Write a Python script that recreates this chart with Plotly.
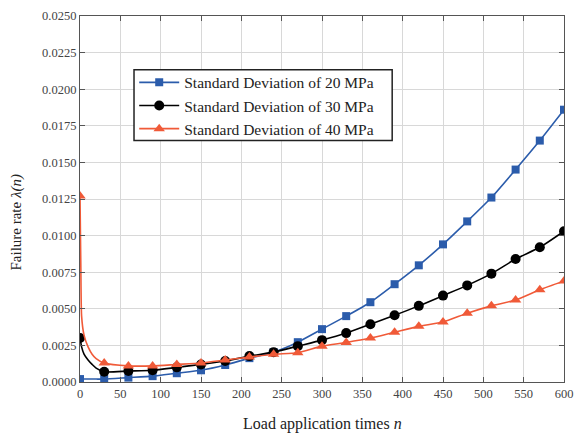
import plotly.graph_objects as go

n_pts = [0, 30, 60, 90, 120, 150, 180, 210, 240, 270, 300, 330, 360, 390, 420, 450, 480, 510, 540, 570, 600]
sd20 = [0.0002, 0.0002, 0.0003, 0.0004, 0.0006, 0.0008, 0.00116, 0.00163, 0.00204, 0.00272, 0.00361,
        0.0045, 0.00545, 0.00668, 0.00797, 0.0094, 0.01097, 0.0126, 0.01451, 0.01649, 0.0186]
sd30 = [0.0030, 0.0007, 0.00075, 0.0008, 0.0010, 0.0012, 0.00143, 0.00177, 0.00204, 0.00245, 0.00286,
        0.00334, 0.00395, 0.00456, 0.0052, 0.0059, 0.0066, 0.0074, 0.0084, 0.0092, 0.0103]
sd40 = [0.0127, 0.0013, 0.0011, 0.0011, 0.0012, 0.0013, 0.0015, 0.0017, 0.0019, 0.0020, 0.00245,
        0.0027, 0.0030, 0.0034, 0.0038, 0.0041, 0.0047, 0.0052, 0.0056, 0.0063, 0.0069]

# extra curve readings near the origin (line only)
early_n = [1, 2, 5, 10, 15, 20]
early30 = [0.0027, 0.0024, 0.0019, 0.0015, 0.0012, 0.00095]
early40 = [0.0080, 0.0045, 0.0032, 0.0024, 0.0019, 0.0016]
early20 = [0.0002, 0.0002, 0.0002, 0.0002, 0.0002, 0.0002]

names = ["Standard Deviation of 20 MPa", "Standard Deviation of 30 MPa", "Standard Deviation of 40 MPa"]
colors = ["#2b5cab", "#000000", "#f05a38"]
symbols = ["square", "circle", "triangle-up"]
sizes = [8, 10, 10]

FONT = "Liberation Serif, Times New Roman, serif"

fig = go.Figure()
for ys, early, name, c, s, sz in zip([sd20, sd30, sd40], [early20, early30, early40], names, colors, symbols, sizes):
    xs = [n_pts[0]] + early_n + n_pts[1:]
    yl = [ys[0]] + early + ys[1:]
    fig.add_trace(go.Scatter(x=xs, y=yl, mode="lines", line=dict(color=c, width=1.6, shape="spline", smoothing=0.6),
                             showlegend=False, hoverinfo="skip"))
    fig.add_trace(go.Scatter(x=n_pts, y=ys, mode="markers", marker=dict(symbol=s, size=sz, color=c),
                             showlegend=False))
    fig.add_trace(go.Scatter(x=[None], y=[None], mode="lines+markers", name=name,
                             line=dict(color=c, width=1.6), marker=dict(symbol=s, size=sz, color=c)))

axis_common = dict(showline=True, linecolor="#555", linewidth=1.2, mirror="ticks", ticks="inside",
                   ticklen=5, tickcolor="#555", showgrid=True, gridcolor="#d8d8d8", gridwidth=1,
                   zeroline=False, ticklabeloverflow="allow",
                   tickfont=dict(family=FONT, size=12.5, color="#444"))

fig.update_xaxes(range=[0, 600], dtick=50, **axis_common)
fig.update_yaxes(range=[0, 0.025], dtick=0.0025, tickformat=".4f", **axis_common)

fig.update_layout(
    width=582, height=436,
    margin=dict(l=80, r=9, t=15, b=54),
    plot_bgcolor="white", paper_bgcolor="white",
    font=dict(family=FONT, color="#222"),
    legend=dict(x=0.112, y=0.864, xanchor="left", yanchor="top",
                bgcolor="rgba(0,0,0,0)", borderwidth=0,
                font=dict(family=FONT, size=15.5, color="#222"),
                tracegroupgap=0, itemwidth=40),
    shapes=[dict(type="rect", xref="paper", yref="paper", x0=0.1116, x1=0.645, y0=0.660, y1=0.853,
                 line=dict(color="#222", width=1.5), fillcolor="white", layer="above")],
    annotations=[
        dict(text="Load application times <i>n</i>", xref="paper", yref="paper", x=0.5, y=-0.114,
             xanchor="center", yanchor="middle", showarrow=False, font=dict(family=FONT, size=16, color="#222")),
        dict(text="Failure rate <i>λ(n)</i>", xref="paper", yref="paper", x=-0.132, y=0.436,
             xanchor="center", yanchor="middle", textangle=-90, showarrow=False,
             font=dict(family=FONT, size=15, color="#222")),
    ],
)

fig.write_html("out.html")
